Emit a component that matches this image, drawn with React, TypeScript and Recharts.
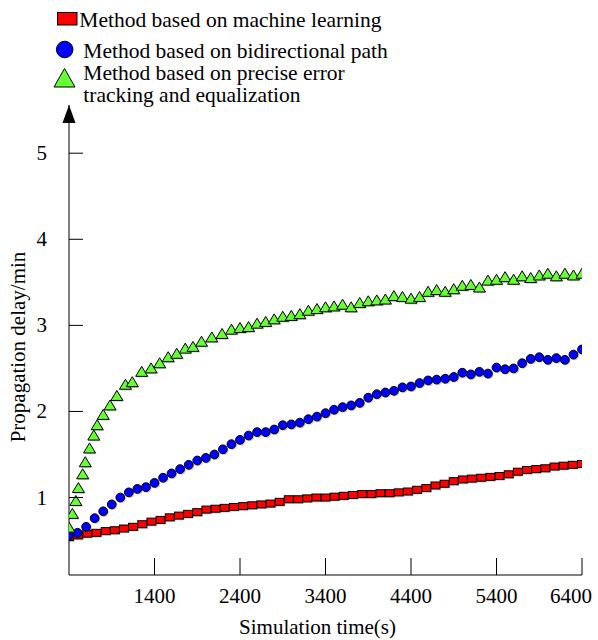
import React from 'react';
import { ScatterChart, Scatter, XAxis, YAxis, Legend } from 'recharts';

const FONT = '"Liberation Serif", "Times New Roman", Times, serif';

const SERIES_NAMES = [
  'Method based on machine learning',
  'Method based on bidirectional path',
  'Method based on precise error tracking and equalization',
];
const COLORS = ['#ff0000', '#0000ff', '#66ff33'];

const X_TICKS = [1400, 2400, 3400, 4400, 5400, 6400];
const Y_TICKS = [1, 2, 3, 4, 5];
const X_TITLE = 'Simulation time(s)';
const Y_TITLE = 'Propagation delay/min';

const CHART_W = 598;
const CHART_H = 640;

// Method based on machine learning
const mlTime = [
  400, 507, 614, 721, 829, 936, 1043, 1150, 1257, 1364,
  1471, 1579, 1686, 1793, 1900, 2007, 2114, 2221, 2329, 2436,
  2543, 2650, 2757, 2864, 2971, 3079, 3186, 3293, 3400, 3507,
  3614, 3721, 3829, 3936, 4043, 4150, 4257, 4364, 4471, 4579,
  4686, 4793, 4900, 5007, 5114, 5221, 5329, 5436, 5543, 5650,
  5757, 5864, 5971, 6079, 6186, 6293, 6400,
];
const mlDelay = [
  0.54, 0.56, 0.58, 0.59, 0.61, 0.62, 0.64, 0.66, 0.69, 0.72,
  0.74, 0.77, 0.79, 0.81, 0.83, 0.86, 0.87, 0.88, 0.89, 0.90,
  0.91, 0.92, 0.93, 0.95, 0.98, 0.98, 0.99, 1.00, 1.00, 1.01,
  1.02, 1.03, 1.04, 1.04, 1.05, 1.05, 1.06, 1.07, 1.09, 1.11,
  1.14, 1.16, 1.19, 1.21, 1.22, 1.23, 1.24, 1.25, 1.27, 1.30,
  1.32, 1.33, 1.34, 1.36, 1.37, 1.38, 1.39,
];

// Method based on bidirectional path
const biTime = [
  400, 500, 600, 700, 800, 900, 1000, 1100, 1200, 1300,
  1400, 1500, 1600, 1700, 1800, 1900, 2000, 2100, 2200, 2300,
  2400, 2500, 2600, 2700, 2800, 2900, 3000, 3100, 3200, 3300,
  3400, 3500, 3600, 3700, 3800, 3900, 4000, 4100, 4200, 4300,
  4400, 4500, 4600, 4700, 4800, 4900, 5000, 5100, 5200, 5300,
  5400, 5500, 5600, 5700, 5800, 5900, 6000, 6100, 6200, 6300,
  6400,
];
const biDelay = [
  0.56, 0.59, 0.66, 0.76, 0.84, 0.92, 1.00, 1.06, 1.10, 1.12,
  1.17, 1.23, 1.28, 1.33, 1.38, 1.43, 1.46, 1.50, 1.56, 1.62,
  1.67, 1.72, 1.76, 1.76, 1.79, 1.84, 1.85, 1.87, 1.91, 1.94,
  1.98, 2.02, 2.05, 2.07, 2.10, 2.16, 2.20, 2.22, 2.24, 2.28,
  2.29, 2.33, 2.36, 2.37, 2.38, 2.40, 2.45, 2.43, 2.46, 2.44,
  2.51, 2.49, 2.50, 2.56, 2.61, 2.63, 2.60, 2.62, 2.60, 2.66,
  2.72,
];

// Method based on precise error tracking and equalization
const peTime = [
  400, 440, 480, 510, 560, 590, 640, 690, 730, 800,
  880, 960, 1060, 1140, 1250, 1360, 1460, 1560, 1660, 1760,
  1850, 1950, 2070, 2190, 2300, 2400, 2500, 2600, 2700, 2800,
  2900, 3000, 3100, 3200, 3300, 3400, 3500, 3600, 3700, 3800,
  3900, 4000, 4100, 4200, 4300, 4400, 4500, 4600, 4700, 4800,
  4900, 5000, 5100, 5200, 5300, 5400, 5500, 5600, 5700, 5800,
  5900, 6000, 6100, 6200, 6300, 6400,
];
const peDelay = [
  0.65, 0.81, 0.96, 1.11, 1.27, 1.41, 1.57, 1.72, 1.84, 1.96,
  2.07, 2.18, 2.31, 2.34, 2.46, 2.50, 2.56, 2.63, 2.67, 2.73,
  2.75, 2.81, 2.86, 2.90, 2.95, 2.97, 2.98, 3.02, 3.04, 3.07,
  3.10, 3.11, 3.13, 3.17, 3.19, 3.21, 3.22, 3.24, 3.21, 3.26,
  3.28, 3.29, 3.30, 3.34, 3.33, 3.31, 3.33, 3.39, 3.41, 3.39,
  3.42, 3.46, 3.47, 3.44, 3.52, 3.53, 3.56, 3.53, 3.57, 3.55,
  3.58, 3.60, 3.57, 3.60, 3.58, 3.60,
];

const toPoints = (xs: number[], ys: number[]) => xs.map((x, i) => ({ x, y: ys[i] }));
const mlData = toPoints(mlTime, mlDelay);
const biData = toPoints(biTime, biDelay);
const peData = toPoints(peTime, peDelay);

const SHADOW = { fill: '#000', opacity: 0.2 };

const SquareMark = (p: any) => {
  const { cx, cy } = p;
  if (cx == null || cy == null) return <g />;
  return (
    <g>
      <rect x={cx - 3.3} y={cy - 2.3} width={9} height={7} {...SHADOW} />
      <rect x={cx - 4.5} y={cy - 3.5} width={9} height={7} fill={COLORS[0]} stroke="#000" strokeWidth={1} />
    </g>
  );
};

const CircleMark = (p: any) => {
  const { cx, cy } = p;
  if (cx == null || cy == null) return <g />;
  return (
    <g>
      <circle cx={cx + 1.2} cy={cy + 1.2} r={4.4} {...SHADOW} />
      <circle cx={cx} cy={cy} r={4.4} fill={COLORS[1]} stroke="#000" strokeWidth={1} />
    </g>
  );
};

const TriangleMark = (p: any) => {
  const { cx, cy } = p;
  if (cx == null || cy == null) return <g />;
  const pts = (dx: number, dy: number) =>
    `${cx + dx},${cy - 5.5 + dy} ${cx + 6 + dx},${cy + 4.5 + dy} ${cx - 6 + dx},${cy + 4.5 + dy}`;
  return (
    <g>
      <polygon points={pts(1.2, 1.2)} {...SHADOW} />
      <polygon points={pts(0, 0)} fill={COLORS[2]} stroke="#000" strokeWidth={1} strokeLinejoin="miter" />
    </g>
  );
};

const XTick = (props: any) => {
  const { x, y, payload } = props;
  // keep the label inside the picture, as the reference does for the last tick
  const halfLabel = 21;
  const labelX = Math.min(x, CHART_W - 6 - halfLabel);
  return (
    <g>
      <line x1={x} y1={y} x2={x} y2={y - 17} stroke="#000" strokeWidth={1} />
      <text x={labelX} y={y + 28} textAnchor="middle" fontFamily={FONT} fontSize={21} fill="#000">
        {payload.value}
      </text>
    </g>
  );
};

const YTick = (props: any) => {
  const { x, y, payload } = props;
  return (
    <g>
      <line x1={x} y1={y} x2={x + 14} y2={y} stroke="#000" strokeWidth={1} />
      <text x={x - 22} y={y + 7} textAnchor="end" fontFamily={FONT} fontSize={21} fill="#000">
        {payload.value}
      </text>
    </g>
  );
};

const YTitle = (props: any) => {
  const vb = props.viewBox || { x: 0, y: 105, width: 69, height: 470 };
  const ax = vb.x + vb.width;
  const top = vb.y;
  const cy = top + vb.height / 2 + 7;
  const cx = vb.x + 18;
  return (
    <g>
      <polygon points={`${ax - 6.5},${top + 18} ${ax + 6.5},${top + 18} ${ax},${top}`} fill="#000" />
      <text
        x={cx}
        y={cy}
        transform={`rotate(-90 ${cx} ${cy})`}
        textAnchor="middle"
        dominantBaseline="central"
        fontFamily={FONT}
        fontSize={21}
        fill="#000"
      >
        {Y_TITLE}
      </text>
    </g>
  );
};

const XTitle = (props: any) => {
  const vb = props.viewBox || { x: 69, y: 575, width: 513, height: 65 };
  return (
    <text
      x={vb.x + vb.width / 2 - 8}
      y={vb.y + 59}
      textAnchor="middle"
      fontFamily={FONT}
      fontSize={21}
      fill="#000"
    >
      {X_TITLE}
    </text>
  );
};

const LegendBox = () => (
  <svg width={420} height={110} style={{ display: 'block' }}>
    <rect x={57.5} y={12.5} width={19.5} height={12.5} fill={COLORS[0]} stroke="#000" strokeWidth={1} />
    <text x={79.3} y={26.7} fontFamily={FONT} fontSize={21.5} fill="#000">
      {SERIES_NAMES[0]}
    </text>
    <circle cx={64.7} cy={49.5} r={8.3} fill={COLORS[1]} stroke="#000" strokeWidth={1} />
    <text x={83.3} y={57.8} fontFamily={FONT} fontSize={21.5} fill="#000">
      {SERIES_NAMES[1]}
    </text>
    <polygon points="54,87 75,87 64.5,68.5" fill={COLORS[2]} stroke="#000" strokeWidth={1} />
    <text fontFamily={FONT} fontSize={21.5} fill="#000">
      <tspan x={83.3} y={79.6}>Method based on precise error</tspan>
      <tspan x={83.3} y={101.7}>tracking and equalization</tspan>
    </text>
  </svg>
);

export default function App() {
  return (
    <div style={{ position: 'absolute', left: 0, top: 0, width: CHART_W, height: CHART_H, background: '#fff' }}>
      <ScatterChart width={CHART_W} height={CHART_H} margin={{ top: 105, right: 16, bottom: 0, left: 0 }}>
        <XAxis
          type="number"
          dataKey="x"
          domain={[400, 6400]}
          ticks={X_TICKS}
          interval={0}
          height={65}
          tickSize={0}
          tickMargin={0}
          tickLine={false}
          tick={<XTick />}
          axisLine={{ stroke: '#000', strokeWidth: 1 }}
          allowDataOverflow
          label={<XTitle />}
        />
        <YAxis
          type="number"
          dataKey="y"
          domain={[0.1, 5.56]}
          ticks={Y_TICKS}
          interval={0}
          width={69}
          tickSize={0}
          tickMargin={0}
          tickLine={false}
          tick={<YTick />}
          axisLine={{ stroke: '#000', strokeWidth: 1 }}
          allowDataOverflow
          label={<YTitle />}
        />
        <Legend
          layout="vertical"
          align="center"
          verticalAlign="middle"
          content={<LegendBox />}
          wrapperStyle={{ top: 0, left: 0, right: 'auto', bottom: 'auto', width: 420, height: 110 }}
        />
        <Scatter name={SERIES_NAMES[0]} data={mlData} fill={COLORS[0]} shape={SquareMark} isAnimationActive={false} />
        <Scatter name={SERIES_NAMES[1]} data={biData} fill={COLORS[1]} shape={CircleMark} isAnimationActive={false} />
        <Scatter name={SERIES_NAMES[2]} data={peData} fill={COLORS[2]} shape={TriangleMark} isAnimationActive={false} />
      </ScatterChart>
    </div>
  );
}
